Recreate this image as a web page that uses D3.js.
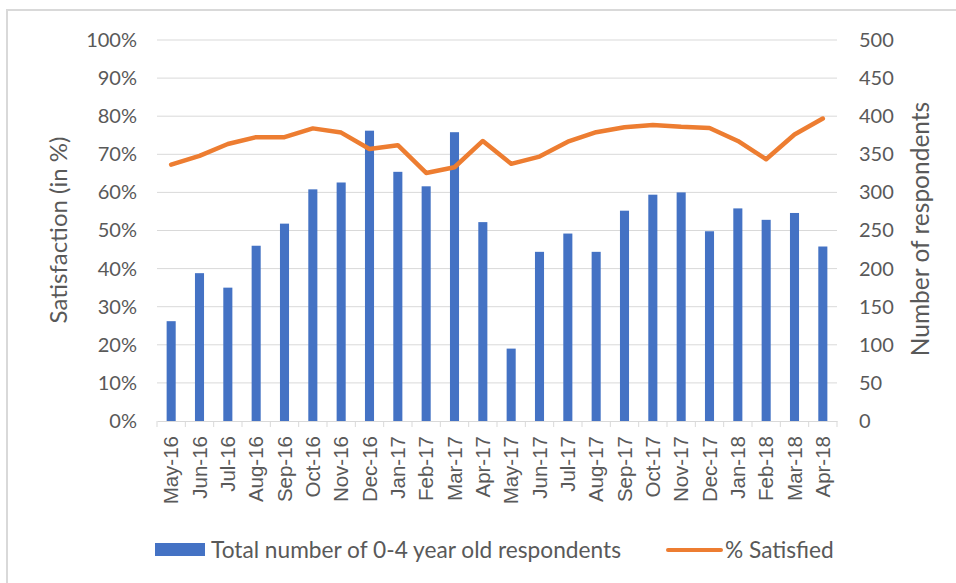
<!DOCTYPE html>
<html>
<head>
<meta charset="utf-8">
<script src="https://cdn.jsdelivr.net/npm/d3@7"></script>
<style>
  html, body { margin: 0; padding: 0; background: #fff; }
  svg { display: block; font-family: "Lato", "Open Sans", sans-serif; }
</style>
</head>
<body>
<svg id="chart" width="956" height="583"></svg>
<script>
// Monthly survey results: respondent counts (bars, right axis) and % satisfied (line, left axis)
const months = ["May-16","Jun-16","Jul-16","Aug-16","Sep-16","Oct-16","Nov-16","Dec-16",
  "Jan-17","Feb-17","Mar-17","Apr-17","May-17","Jun-17","Jul-17","Aug-17","Sep-17","Oct-17",
  "Nov-17","Dec-17","Jan-18","Feb-18","Mar-18","Apr-18"];
const respondents = [131, 194, 175, 230, 259, 304, 313, 381, 327, 308, 379, 261,
  95, 222, 246, 222, 276, 297, 300, 249, 279, 264, 273, 229];
const satisfied = [67.3, 69.6, 72.7, 74.5, 74.5, 76.8, 75.7, 71.4, 72.4, 65.1, 66.6, 73.5,
  67.5, 69.4, 73.3, 75.8, 77.1, 77.7, 77.2, 76.9, 73.5, 68.7, 75.2, 79.4];
const pctTicks = [0, 10, 20, 30, 40, 50, 60, 70, 80, 90, 100];
const countTicks = [0, 50, 100, 150, 200, 250, 300, 350, 400, 450, 500];

const svg = d3.select("#chart");
const plotL = 157, plotR = 837, plotT = 40, plotB = 421;
const textColor = "#595959", gridColor = "#d9d9d9";

// chart frame
svg.append("rect").attr("x", 7).attr("y", 10).attr("width", 1000).attr("height", 600)
  .attr("fill", "#fff").attr("stroke", gridColor).attr("stroke-width", 2);

const x = d3.scaleBand().domain(months).range([plotL, plotR]);
const yPct = d3.scaleLinear().domain([0, 100]).range([plotB, plotT]);
const yCount = d3.scaleLinear().domain([0, 500]).range([plotB, plotT]);

// gridlines
svg.append("g").selectAll("line").data(pctTicks.slice(1)).join("line")
  .attr("x1", plotL).attr("x2", plotR)
  .attr("y1", d => yPct(d)).attr("y2", d => yPct(d))
  .attr("stroke", gridColor).attr("stroke-width", 1);

// left axis labels
const leftAxis = svg.append("g").attr("transform", `translate(${plotL},0)`)
  .call(d3.axisLeft(yPct).tickValues(pctTicks).tickFormat(d => d + "%").tickSize(0).tickPadding(20));
leftAxis.select(".domain").remove();
leftAxis.selectAll("text").attr("fill", textColor).attr("font-size", 20).attr("font-family", "Lato");

// right axis labels
const rightAxis = svg.append("g").attr("transform", `translate(${plotR},0)`)
  .call(d3.axisRight(yCount).tickValues(countTicks).tickSize(0).tickPadding(22));
rightAxis.select(".domain").remove();
rightAxis.selectAll("text").attr("fill", textColor).attr("font-size", 20).attr("font-family", "Lato");

// bars
const barW = x.bandwidth() * 0.32;
svg.append("g").selectAll("rect").data(months).join("rect")
  .attr("x", (d) => x(d) + x.bandwidth() / 2 - barW / 2)
  .attr("width", barW)
  .attr("y", (d, i) => yCount(respondents[i]))
  .attr("height", (d, i) => plotB - yCount(respondents[i]))
  .attr("fill", "#4472C4");

// bottom axis with category labels
const xAxis = svg.append("g").attr("transform", `translate(0,${plotB})`)
  .call(d3.axisBottom(x).tickSize(0).tickPadding(0));
xAxis.select(".domain").attr("stroke", gridColor);
xAxis.selectAll(".tick line").remove();
xAxis.selectAll(".tick text")
  .attr("fill", textColor).attr("font-size", 20.5).attr("font-family", "Arial, Liberation Sans")
  .attr("transform", "rotate(-90)")
  .attr("text-anchor", "end").attr("x", -15).attr("y", 0).attr("dy", "0.35em");
// boundary tick marks
const bounds = months.map(m => x(m)).concat([plotR]);
svg.append("g").selectAll("line").data(bounds).join("line")
  .attr("x1", d => d).attr("x2", d => d)
  .attr("y1", plotB).attr("y2", plotB + 6)
  .attr("stroke", gridColor);

// satisfaction line
const line = d3.line()
  .x((d, i) => x(months[i]) + x.bandwidth() / 2)
  .y(d => yPct(d));
svg.append("path").datum(satisfied)
  .attr("d", line).attr("fill", "none")
  .attr("stroke", "#ED7D31").attr("stroke-width", 4.5)
  .attr("stroke-linejoin", "round").attr("stroke-linecap", "round");

// axis titles
svg.append("text").attr("transform", "translate(67,230) rotate(-90)")
  .attr("text-anchor", "middle").attr("fill", textColor).attr("font-size", 24)
  .text("Satisfaction (in %)");
svg.append("text").attr("transform", "translate(929,229) rotate(-90)")
  .attr("text-anchor", "middle").attr("fill", textColor).attr("font-size", 24.5)
  .text("Number of respondents");

// legend
const lg = svg.append("g");
lg.append("rect").attr("x", 155).attr("y", 543).attr("width", 50).attr("height", 13).attr("fill", "#4472C4");
lg.append("text").attr("x", 211).attr("y", 558).attr("fill", textColor).attr("font-size", 22.7)
  .text("Total number of 0-4 year old respondents");
lg.append("line").attr("x1", 668).attr("x2", 721).attr("y1", 550).attr("y2", 550)
  .attr("stroke", "#ED7D31").attr("stroke-width", 4).attr("stroke-linecap", "round");
lg.append("text").attr("x", 725).attr("y", 558).attr("fill", textColor).attr("font-size", 22.7)
  .text("% Satisfied");
</script>
</body>
</html>
